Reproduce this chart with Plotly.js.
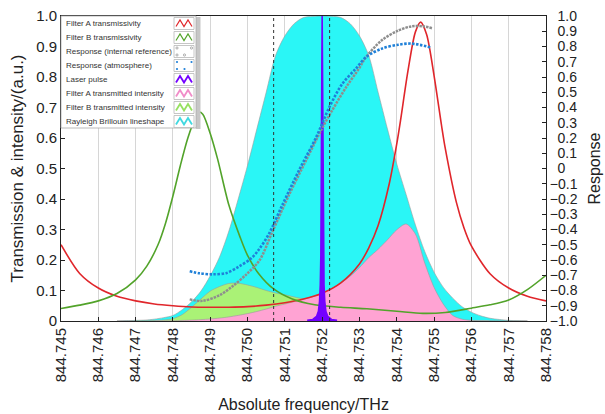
<!DOCTYPE html>
<html>
<head>
<meta charset="utf-8">
<script src="https://cdn.plot.ly/plotly-3.0.1.min.js"></script>
<style>html,body{margin:0;padding:0;background:#fff;}#chart{width:605px;height:414px;}</style>
</head>
<body>
<div id="chart"></div>
<script>
// ---------- data ----------
const xTicks = [844.745, 844.746, 844.747, 844.748, 844.749, 844.750, 844.751, 844.752, 844.753, 844.754, 844.755, 844.756, 844.757, 844.758];
const xTickText = ['844.745','844.746','844.747','844.748','844.749','844.750','844.751','844.752','844.753','844.754','844.755','844.756','844.757','844.758'];
const yTicks = [0,0.1,0.2,0.3,0.4,0.5,0.6,0.7,0.8,0.9,1.0];
const yTickText = ['0','0.1','0.2','0.3','0.4','0.5','0.6','0.7','0.8','0.9','1.0'];
const y2Ticks = [1.0,0.9,0.8,0.7,0.6,0.5,0.4,0.3,0.2,0.1,0,-0.1,-0.2,-0.3,-0.4,-0.5,-0.6,-0.7,-0.8,-0.9,-1.0];
const y2TickText = ['\u20071.0','\u20070.9','\u20070.8','\u20070.7','\u20070.6','\u20070.5','\u20070.4','\u20070.3','\u20070.2','\u20070.1','\u20070','\u22120.1','\u22120.2','\u22120.3','\u22120.4','\u22120.5','\u22120.6','\u22120.7','\u22120.8','\u22120.9','\u22121.0'];

// Filter A transmissivity (red)
const filterAFreq = [844.7450,844.7455,844.7460,844.7465,844.7470,844.7475,844.7480,844.7485,844.7490,844.7495,844.7500,844.7505,844.7510,844.7515,844.7520,844.7525,844.7530,844.75325,844.7535,844.7538,844.7540,844.7541,844.7543,844.7545,844.75464,844.7548,844.7550,844.7552,844.7553,844.7556,844.7558,844.7560,844.7565,844.7570,844.7575,844.7580];
const filterAVal  = [0.250,0.156,0.108,0.081,0.066,0.056,0.050,0.046,0.045,0.045,0.047,0.052,0.060,0.072,0.091,0.125,0.187,0.240,0.313,0.451,0.581,0.657,0.820,0.948,0.980,0.939,0.804,0.641,0.566,0.388,0.306,0.246,0.155,0.108,0.081,0.066];

// Filter B transmissivity (green)
const filterBFreq = [844.7450,844.7455,844.7460,844.7465,844.7470,844.7473,844.7476,844.7478,844.7480,844.7482,844.7484,844.7486,844.7487,844.7488,844.7490,844.7492,844.7495,844.7498,844.7500,844.7503,844.7507,844.7512,844.7518,844.7525,844.7532,844.7540,844.7547,844.7553,844.7560,844.7565,844.7570,844.7575,844.7580];
const filterBVal  = [0.041,0.052,0.066,0.090,0.135,0.180,0.250,0.320,0.410,0.510,0.600,0.665,0.685,0.678,0.615,0.530,0.380,0.275,0.215,0.155,0.105,0.072,0.053,0.045,0.040,0.032,0.025,0.028,0.042,0.053,0.069,0.103,0.150];

// Response (internal reference), right axis
const respRefFreq = [844.74845,844.74879,844.74925,844.74960,844.74997,844.75032,844.75066,844.75112,844.75157,844.75200,844.75227,844.75264,844.75299,844.75317,844.75360,844.75405,844.75440,844.75472,844.75496];
const respRefVal  = [-0.858,-0.868,-0.831,-0.772,-0.694,-0.602,-0.418,-0.169,0.054,0.264,0.382,0.532,0.657,0.729,0.841,0.906,0.932,0.932,0.919];

// Response (atmosphere), right axis
const respAtmFreq = [844.74845,844.74871,844.74906,844.74944,844.74978,844.75010,844.75031,844.75058,844.75093,844.75138,844.75184,844.75219,844.75253,844.75291,844.75317,844.75360,844.75405,844.75440,844.75493];
const respAtmVal  = [-0.674,-0.687,-0.694,-0.685,-0.641,-0.589,-0.530,-0.425,-0.241,-0.012,0.205,0.401,0.552,0.657,0.729,0.786,0.812,0.819,0.793];

// Laser pulse
const laserFreq = [844.7516,844.75175,844.75185,844.7519,844.75193,844.75195,844.751965,844.751975,844.751985,844.751992,844.752,844.752008,844.752015,844.752025,844.752035,844.75205,844.75207,844.7521,844.75215,844.75225,844.7524];
const laserVal  = [0.002,0.005,0.015,0.032,0.064,0.118,0.215,0.35,0.6,0.84,1.0,0.84,0.6,0.35,0.215,0.118,0.064,0.032,0.015,0.005,0.002];

// Shared frequency grid of the filled line shapes
const shapeFreq = [844.7465,844.74675,844.7470,844.74725,844.7475,844.74775,844.7480,844.74825,844.7485,844.74875,844.7490,844.74925,844.7495,844.74975,844.7500,844.75025,844.7505,844.75075,844.7510,844.75125,844.7515,844.75175,844.7520,844.75225,844.7525,844.75275,844.7530,844.75325,844.7535,844.75375,844.7540,844.75425,844.7545,844.75475,844.7550,844.75525,844.7555,844.75575,844.7560,844.75625,844.7565,844.75675,844.7570,844.75725,844.7575];
// Rayleigh Brillouin lineshape (cyan)
const rbVal    = [0,0.001,0.002,0.003,0.006,0.011,0.018,0.037,0.063,0.098,0.148,0.21,0.295,0.40,0.51,0.63,0.75,0.87,0.935,0.975,0.995,0.999,1.0,0.999,0.995,0.975,0.935,0.87,0.75,0.63,0.515,0.415,0.315,0.228,0.16,0.11,0.075,0.047,0.029,0.017,0.009,0.005,0.002,0.001,0];
// Filter B transmitted intensity (light green)
const bTransVal = [0,0.0001,0.0003,0.0005,0.0014,0.0033,0.0075,0.021,0.045,0.072,0.098,0.113,0.123,0.124,0.118,0.11,0.1,0.092,0.086,0.079,0.072,0.062,0.054,0.049,0.046,0.042,0.038,0.034,0.027,0.021,0.016,0.012,0.009,0.006,0.0044,0.003,0.002,0.0015,0.001,0.0007,0.0004,0.0002,0.0001,0,0];
// Filter A transmitted intensity (pink)
const aTransVal = [0,0.0001,0.0001,0.0002,0.0003,0.0006,0.0009,0.0018,0.0029,0.0045,0.0067,0.0095,0.0134,0.0185,0.0243,0.0312,0.0391,0.0483,0.0556,0.0634,0.0711,0.080,0.0912,0.106,0.124,0.147,0.175,0.208,0.235,0.266,0.299,0.318,0.285,0.19,0.11,0.055,0.018,0.006,0.002,0.0008,0.0003,0.0001,0,0,0];

// Dotted vertical marker lines
const markerFreqs = [844.7507, 844.7522];

const legendLabels = ['Filter A transmissivity','Filter B transmissivity','Response (internal reference)','Response (atmosphere)','Laser pulse','Filter A transmitted intensity','Filter B transmitted intensity','Rayleigh Brillouin lineshape'];

// ---------- styles ----------
const FONT = 'Liberation Sans, Arial, sans-serif';
const C = {red:'#e0262b', green:'#52a32a', gray:'#8e8e8e', blue:'#1f80d8', laser:'#7300ff', pink:'#ffa3d3', lgreen:'#aaf276', cyan:'#2af6f6'};
const legendColors = [C.red, C.green, C.gray, C.blue, C.laser, '#f08cc8', '#96e060', '#40d8e0'];
const legendKinds = ['line','line','ring','dot','fill','fill','fill','fill'];

const traces = [
  {x:shapeFreq, y:rbVal, type:'scatter', mode:'lines', fill:'tozeroy', fillcolor:C.cyan, line:{color:'#9a9a9a', width:0.6, shape:'spline', smoothing:0.8}, name:legendLabels[7], showlegend:false},
  {x:shapeFreq, y:bTransVal, type:'scatter', mode:'lines', fill:'tozeroy', fillcolor:C.lgreen, line:{color:'#9a9a9a', width:0.6, shape:'spline', smoothing:0.8}, name:legendLabels[6], showlegend:false},
  {x:shapeFreq, y:aTransVal, type:'scatter', mode:'lines', fill:'tozeroy', fillcolor:C.pink, line:{color:'#9a9a9a', width:0.6, shape:'spline', smoothing:0.8}, name:legendLabels[5], showlegend:false},
  {x:filterAFreq, y:filterAVal, type:'scatter', mode:'lines', line:{color:C.red, width:1.6, shape:'spline', smoothing:0.8}, name:legendLabels[0], showlegend:false},
  {x:filterBFreq, y:filterBVal, type:'scatter', mode:'lines', line:{color:C.green, width:1.6, shape:'spline', smoothing:0.8}, name:legendLabels[1], showlegend:false},
  {x:respRefFreq, y:respRefVal, yaxis:'y2', type:'scatter', mode:'lines', line:{color:C.gray, width:2.5, dash:'2.5px,1px', shape:'spline', smoothing:0.9}, name:legendLabels[2], showlegend:false},
  {x:respAtmFreq, y:respAtmVal, yaxis:'y2', type:'scatter', mode:'lines', line:{color:C.blue, width:2.6, dash:'2.5px,1.5px', shape:'spline', smoothing:0.9}, name:legendLabels[3], showlegend:false},
  {x:laserFreq, y:laserVal, type:'scatter', mode:'lines', fill:'tozeroy', fillcolor:C.laser, line:{color:C.laser, width:1.6}, name:legendLabels[4], showlegend:false}
];

// ---------- layout helpers (pixel -> paper) ----------
const W = 605, H = 414, PL = 61, PR = 546, PT = 16, PB = 321;
const px = x => (x - PL) / (PR - PL);
const py = y => (PB - y) / (PB - PT);

const shapes = [];
markerFreqs.forEach(f => shapes.push({type:'line', xref:'x', yref:'paper', x0:f, x1:f, y0:0, y1:1, line:{color:'#333', width:1, dash:'dot'}, layer:'above'}));

// custom legend box (top-left, inside the plot)
shapes.push({type:'rect', xref:'paper', yref:'paper', x0:px(196), x1:px(200.5), y0:py(129), y1:py(17), fillcolor:'#c6c6c6', line:{width:0}, layer:'above'});
shapes.push({type:'rect', xref:'paper', yref:'paper', x0:px(61), x1:px(196), y0:py(128), y1:py(16), fillcolor:'#ffffff', line:{color:'#a8a8a8', width:0.8}, layer:'above'});
const annotations = [];
legendLabels.forEach((lab, i) => {
  const ry = 23.5 + 14 * i;
  annotations.push({xref:'paper', yref:'paper', x:px(64), y:py(ry), xanchor:'left', yanchor:'middle', text:lab, showarrow:false, font:{family:FONT, size:8, color:'#333'}});
  shapes.push({type:'rect', xref:'paper', yref:'paper', x0:px(174), x1:px(194), y0:py(ry+6), y1:py(ry-6), fillcolor:'#fff', line:{color:'#b8b8b8', width:0.8}, layer:'above'});
  const col = legendColors[i], kind = legendKinds[i];
  if (kind === 'line' || kind === 'fill') {
    const pts = [[176,ry+3],[180,ry-3.5],[184,ry+3],[188,ry-3.5],[192,ry+3]];
    const path = 'M' + pts.map(p => px(p[0]) + ',' + py(p[1])).join(' L');
    shapes.push({type:'path', xref:'paper', yref:'paper', path:path, line:{color:col, width:kind==='fill'?1.8:1.2}, layer:'above'});
  } else {
    [[177,ry-3.5],[191.5,ry-3.5],[177,ry+3.5],[184.5,ry+3.5]].forEach(p => {
      shapes.push({type:'circle', xref:'paper', yref:'paper', x0:px(p[0]-1.1), x1:px(p[0]+1.1), y0:py(p[1]+1.1), y1:py(p[1]-1.1),
        fillcolor: kind==='dot' ? col : 'rgba(0,0,0,0)', line:{color:col, width:kind==='dot'?0:0.7}, layer:'above'});
    });
  }
});

const layout = {
  width: W, height: H,
  margin: {l:PL, r:W-PR, t:PT, b:H-PB, pad:0},
  paper_bgcolor:'#fff', plot_bgcolor:'#fff',
  font:{family:FONT, color:'#222'},
  showlegend:false,
  xaxis:{
    range:[844.745, 844.758], tickmode:'array', tickvals:xTicks, ticktext:xTickText, tickangle:-90,
    tickfont:{size:15, family:FONT, color:'#222'}, ticks:'inside', ticklen:4, tickcolor:'#222',
    showgrid:true, gridcolor:'#d6d6d6', gridwidth:1, zeroline:false,
    showline:true, linecolor:'#222', linewidth:1, mirror:true,
    title:{text:'Absolute frequency/THz', font:{size:16, family:FONT, color:'#222'}, standoff:17}
  },
  yaxis:{
    range:[0,1], tickmode:'array', tickvals:yTicks, ticktext:yTickText,
    tickfont:{size:15, family:FONT, color:'#222'}, ticks:'inside', ticklen:4, tickcolor:'#222',
    showgrid:false, zeroline:false, showline:true, linecolor:'#222', linewidth:1,
    title:{text:'Transmission & intensity/(a.u.)', font:{size:17, family:FONT, color:'#222'}, standoff:8}
  },
  yaxis2:{
    range:[-1,1], overlaying:'y', side:'right', tickmode:'array', tickvals:y2Ticks, ticktext:y2TickText,
    tickfont:{size:14, family:FONT, color:'#222'}, ticks:'inside', ticklen:4, tickcolor:'#222',
    showgrid:false, zeroline:false, showline:true, linecolor:'#222', linewidth:1,
    title:{text:'Response', font:{size:16, family:FONT, color:'#222'}, standoff:12}
  },
  shapes: shapes,
  annotations: annotations
};

Plotly.newPlot('chart', traces, layout, {staticPlot:true, displayModeBar:false});
</script>
</body>
</html>
